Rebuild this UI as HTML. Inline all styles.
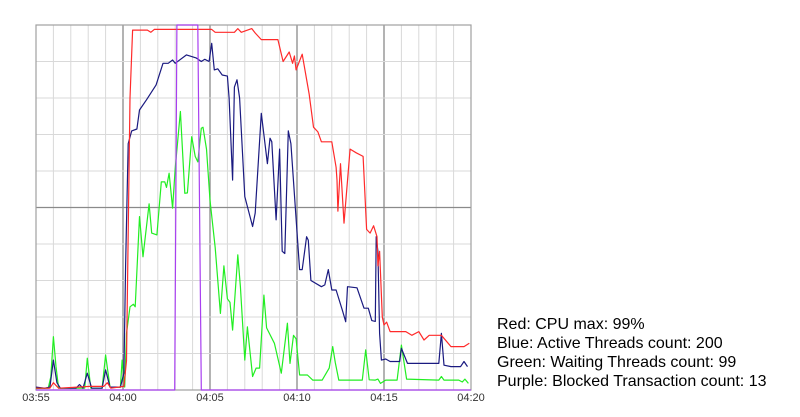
<!DOCTYPE html>
<html><head><meta charset="utf-8"><style>
html,body{margin:0;padding:0;background:#fff;width:800px;height:417px;overflow:hidden}
svg{display:block;font-family:"Liberation Sans",Arial,sans-serif}
</style></head><body>
<svg id="chart" width="800" height="417" viewBox="0 0 800 417" xmlns="http://www.w3.org/2000/svg">
<g id="grid"></g>
<g id="series"></g>
<g id="xaxis"></g>
<g font-size="16" fill="#000">
<text x="497" y="329">Red: CPU max: 99%</text>
<text x="497" y="348">Blue: Active Threads count: 200</text>
<text x="497" y="367">Green: Waiting Threads count: 99</text>
<text x="497" y="386">Purple: Blocked Transaction count: 13</text>
</g>
</svg>
<script>
const tickLabels=["03:55","04:00","04:05","04:10","04:15","04:20"];
const redT=[0,0.8,1.0,1.3,3.1,3.9,4.1,4.3,5.05,5.2,5.4,5.55,6.4,6.6,6.8,10.1,10.3,11.4,11.6,11.8,12.4,12.6,12.95,13.3,13.9,14.2,14.55,14.75,14.85,14.95,15.3,15.7,15.95,16.2,16.4,17.0,17.25,17.3,17.35,17.5,17.7,18.05,18.4,18.8,19.0,19.2,19.4,19.6,19.65,19.75,19.9,20.0,20.15,20.35,21.25,21.6,22.0,22.3,22.6,23.3,23.85,24.6,24.9];
const redV=[0.5,0.5,2,0.5,1,1,2,0.5,1,8,80,98.6,98.6,98,98.8,98.8,98,98,99,98,99,97.8,96,96,96,90,92.6,89.5,91.5,87.7,92,81,72,70.7,68,68,61,57.5,49,62,45.7,66,65,64,44,43,45,42,34,38,20,17.8,18.6,16,16,15,16,13.7,15,15,11.9,11.9,12.8];
const blueT=[0,0.5,0.8,1.0,1.2,1.4,2.3,2.5,2.7,2.95,3.2,3.8,4.0,4.25,4.85,5.05,5.15,5.3,5.5,5.8,5.95,6.35,6.9,7.3,7.6,7.85,8.0,8.65,9.2,9.5,9.7,9.95,10.1,10.25,10.45,10.7,11.0,11.1,11.3,11.4,11.55,11.7,12.0,12.45,12.6,12.95,13.3,13.45,13.55,13.8,14.0,14.15,14.3,14.5,14.65,15.15,15.3,15.55,15.65,15.8,16.4,16.6,16.8,17.0,17.25,17.6,17.8,17.9,18.45,18.85,19.1,19.3,19.5,19.55,19.65,19.75,19.85,20.1,20.35,20.9,21.0,21.35,23.15,23.3,23.45,23.85,24.4,24.6,24.8];
const blueV=[0.8,0.5,0.8,8.2,2,0.5,0.5,1.5,0.5,4.6,0.5,0.5,5.5,0.8,0.8,4.6,34,67.5,71,71.5,76.7,79.5,83.6,89.5,89.5,90.4,89.5,91.8,91,90,90.6,90,95,87.7,88,86.3,86,80,57.5,83,85,80,53,44.8,48.5,75.8,62,69,68,46.6,66,38,37.4,71,67.5,33,33,42,41,30,28.3,28.8,33,27.4,27.4,22,18.7,28.3,28,22.4,22.4,19,18.8,42,38,15.5,8.2,8.5,7.8,7.8,11.4,7.3,7.3,15.5,6.8,6.4,6.4,7.8,6.4];
const greenT=[0,0.7,0.85,1.0,1.15,1.3,2.8,2.95,3.15,3.8,4.0,4.25,4.85,4.95,5.1,5.2,5.4,5.6,5.7,5.95,6.15,6.5,6.65,6.95,7.2,7.4,7.5,7.65,7.85,8.0,8.3,8.55,8.7,8.95,9.15,9.3,9.5,9.6,9.8,10.0,10.3,10.6,10.8,11.0,11.15,11.3,11.6,11.75,12.0,12.15,12.45,12.65,12.85,13.1,13.25,13.7,14.1,14.45,14.6,14.8,14.95,15.15,15.6,15.9,16.45,16.85,17.05,17.2,17.4,18.75,18.95,19.15,19.5,19.65,19.8,20.1,20.75,21.0,21.3,23.15,23.3,23.45,24.3,24.5,24.65,24.85];
const greenV=[0.4,0.5,3.6,14.6,6.4,0.5,0.5,8.7,0.5,0.5,9.6,0.8,0.8,8.2,0.8,15.5,22.8,23.5,22.8,47.5,36.5,51,43,42.5,57,57,55.5,59.4,49.8,60.7,76.3,53.9,54,69.4,64,62.5,71.7,72,66,52,39,21,34,25,24,16.4,37,28.3,8.2,17.3,3.7,6,6,26,17,12.8,4.6,18.3,7.3,15,14,4.1,4.1,2.7,2.7,6,11.9,7.5,2.7,2.7,11,2.8,2.7,3,1.8,2.7,2.7,12.3,3,2.7,3.7,2.7,2.7,2.2,3,1.8];
const purpleT=[0,7.97,8.1,9.3,9.5,25];
const purpleV=[0,0,100,100,0,0];

const L=36,R=471,T=25,B=390,tMax=25;
const xS=t=>L+(R-L)*t/tMax;
const yS=v=>B-(B-T)*v/100;
const NS="http://www.w3.org/2000/svg";
function mk(tag,attrs,parent){const e=document.createElementNS(NS,tag);for(const k in attrs)e.setAttribute(k,attrs[k]);parent.appendChild(e);return e;}
const grid=document.getElementById('grid');
mk('rect',{x:L,y:T,width:R-L,height:B-T,fill:'#fff'},grid);
for(let m=1;m<tMax;m++){
  const x=xS(m);const major=m%5===0;
  const l=mk('line',{x1:x,x2:x,y1:T,y2:B,stroke:major?'#8a8a8a':'#d9d9d9','stroke-width':major?1.3:1},grid);
  
  
}
for(let i=1;i<10;i++){
  const y=yS(i*10);const major=i===5;
  const l=mk('line',{x1:L,x2:R,y1:y,y2:y,stroke:major?'#8a8a8a':'#d9d9d9','stroke-width':major?1.3:1},grid);
  
  
}
const fr=mk('rect',{x:L,y:T,width:R-L,height:B-T,fill:'none',stroke:'#a0a0a0','stroke-width':1.2},grid);


const ser=document.getElementById('series');
function line(ts,vs,color,name){
  const p=mk('polyline',{points:ts.map((t,i)=>xS(t).toFixed(1)+','+yS(vs[i]).toFixed(1)).join(' '),fill:'none',stroke:color,'stroke-width':1.2,'stroke-linejoin':'round'},ser);
  
  
}
line(greenT,greenV,'#22ee22','waiting-threads-line');
line(blueT,blueV,'#1a1a80','active-threads-line');
line(redT,redV,'#ff2a2a','cpu-max-line');
line(purpleT,purpleV,'#a83ff0','blocked-transactions-line');
const xa=document.getElementById('xaxis');
tickLabels.forEach((lab,i)=>{
  const t=mk('text',{x:xS(i*5),y:401,'text-anchor':'middle','font-size':11,fill:'#333'},xa);
  t.textContent=lab;
  
  
});
</script>
</body></html>
